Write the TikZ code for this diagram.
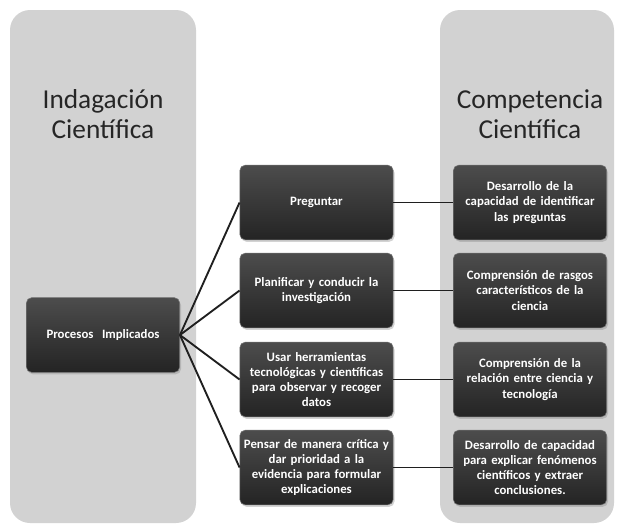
\documentclass[tikz,border=0pt]{standalone}
\usepackage{fontspec}
\setmainfont{Carlito}
\usetikzlibrary{shadows}
\definecolor{panelgray}{HTML}{D2D2D2}
\begin{document}
\begin{tikzpicture}[x=0.75pt,y=-0.75pt,
    panel/.style={fill=panelgray, rounded corners=15pt},
    title/.style={font=\fontsize{20.5}{22.5}\selectfont, align=center, text=black!85},
    box/.style={draw=black!55, top color=black!70, bottom color=black!86, rounded corners=4pt, text=white, align=center,
      text width=113pt, font=\fontsize{9.6}{11.4}\selectfont\bfseries, minimum width=115pt, minimum height=56pt, inner sep=1pt,
      drop shadow={opacity=0.35, shadow xshift=1pt, shadow yshift=-1.5pt}},
    link/.style={draw=black!88, line width=1.4pt}
  ]
    \useasboundingbox (0,0) rectangle (619,526);
    % background columns
    \fill[panel] (10,10) rectangle (196,523);
    \fill[panel] (440,10) rectangle (614,523);
    \node[title] (tind) at (103,114) {Indagación\\Científica};
    \node[title] (tcomp) at (530,114) {Competencia\\Científica};
    % left node
    \node[box] (proc) at (103,335) {Procesos\ \ Implicados};
    % processes
    \node[box] (preg) at (316.5,202.5) {Preguntar};
    \node[box] (plan) at (316.5,290.5) {Planificar y conducir\ la\\investigación};
    \node[box] (usar) at (316.5,379.5) {Usar herramientas\\tecnológicas y científicas\\para observar y recoger\\datos};
    \node[box] (pens) at (316.5,467.5) {Pensar de manera crítica y\\dar prioridad a la\\evidencia\ para formular\\explicaciones};
    % competencies
    \node[box] (ident) at (530,202.5) {Desarrollo de la\\capacidad de identificar\\las preguntas};
    \node[box] (rasg) at (530,290.5) {Comprensión de rasgos\\característicos de la\\ciencia};
    \node[box] (tecn) at (530,379.5) {Comprensión de la\\relación entre ciencia y\\tecnología};
    \node[box] (expl) at (530,467.5) {Desarrollo de capacidad\\para explicar fenómenos\\científicos y extraer\\conclusiones.};
    % connectors
    \foreach \n in {preg,plan,usar,pens}
      \draw[link] (proc.east) -- (\n.west);
    \draw[link] (preg) -- (ident);
    \draw[link] (plan) -- (rasg);
    \draw[link] (usar) -- (tecn);
    \draw[link] (pens) -- (expl);
  \end{tikzpicture}
\end{document}
